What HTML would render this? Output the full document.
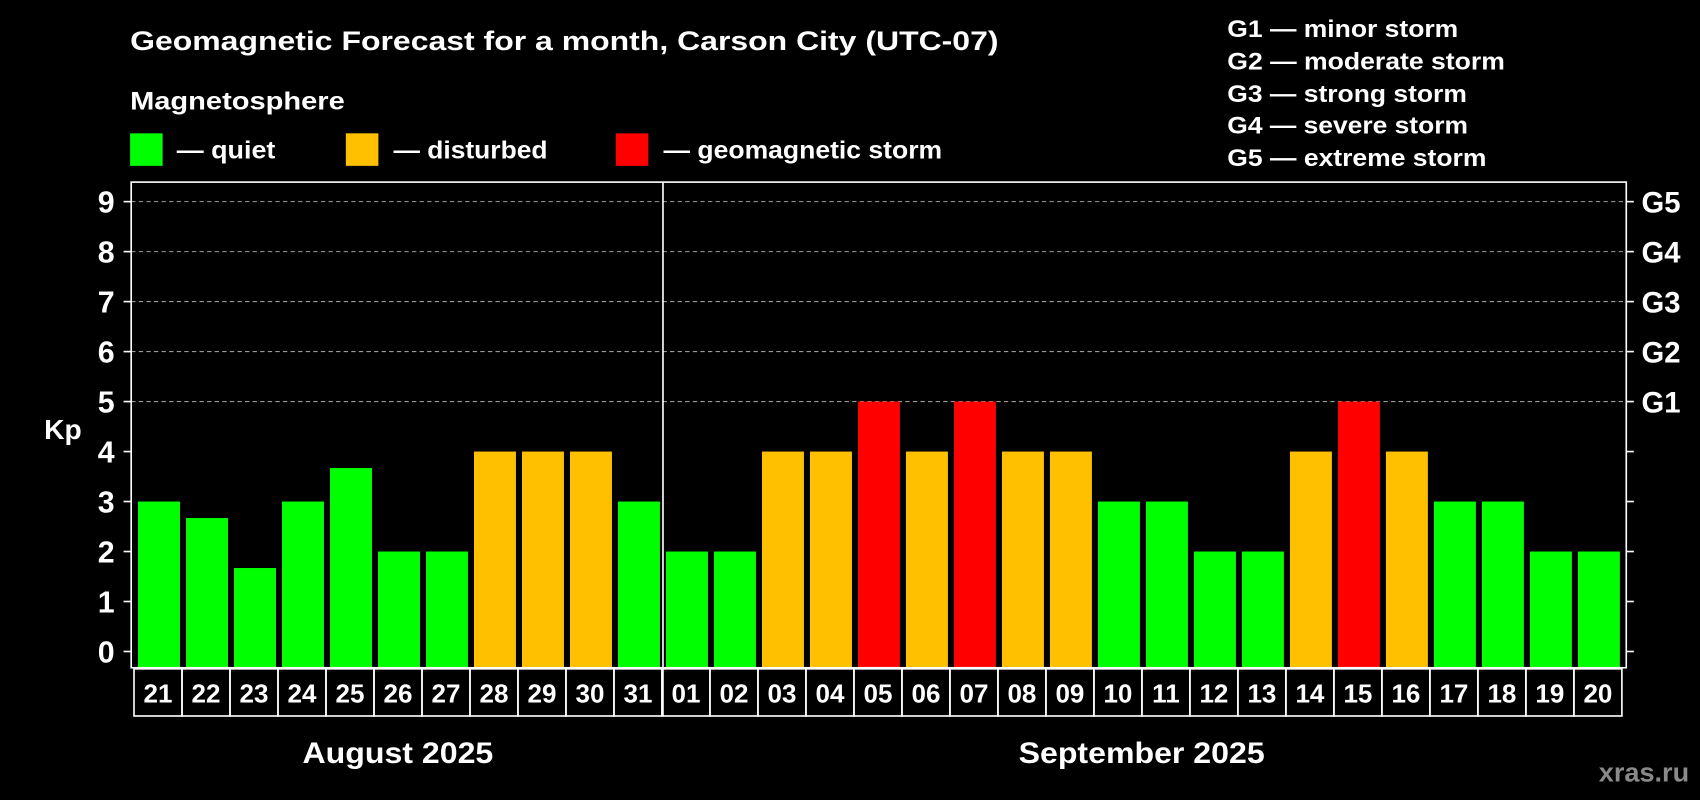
<!DOCTYPE html>
<html><head><meta charset="utf-8"><style>
html,body{margin:0;padding:0;background:#000;width:1700px;height:800px;overflow:hidden}
svg{display:block}
text{font-family:"Liberation Sans",Arial,sans-serif;font-weight:bold;fill:#fff}
</style></head><body>
<svg id="chart" width="1700" height="800" viewBox="0 0 1568 738" preserveAspectRatio="none" xmlns="http://www.w3.org/2000/svg">
<rect x="0" y="0" width="1568" height="738" fill="#000"/>
<text x="120" y="46" font-size="25" textLength="801" lengthAdjust="spacingAndGlyphs">Geomagnetic Forecast for a month, Carson City (UTC-07)</text>
<text x="120" y="101" font-size="23" textLength="198" lengthAdjust="spacingAndGlyphs">Magnetosphere</text>
<g><rect x="120" y="123" width="30" height="30" fill="#00ff00"/><text x="163" y="146" font-size="23" textLength="91" lengthAdjust="spacingAndGlyphs">— quiet</text></g>
<g><rect x="319" y="123" width="30" height="30" fill="#ffc000"/><text x="363" y="146" font-size="23" textLength="142" lengthAdjust="spacingAndGlyphs">— disturbed</text></g>
<g><rect x="568" y="123" width="30" height="30" fill="#ff0000"/><text x="612" y="146" font-size="23" textLength="257" lengthAdjust="spacingAndGlyphs">— geomagnetic storm</text></g>
<g font-size="22">
<text x="1132" y="34" textLength="213" lengthAdjust="spacingAndGlyphs">G1 — minor storm</text>
<text x="1132" y="64" textLength="256" lengthAdjust="spacingAndGlyphs">G2 — moderate storm</text>
<text x="1132" y="94" textLength="221" lengthAdjust="spacingAndGlyphs">G3 — strong storm</text>
<text x="1132" y="123" textLength="222" lengthAdjust="spacingAndGlyphs">G4 — severe storm</text>
<text x="1132" y="153" textLength="239" lengthAdjust="spacingAndGlyphs">G5 — extreme storm</text>
</g>
<text x="58" y="405" font-size="26" text-anchor="middle">Kp</text>
<g id="plot"></g>
<text x="367" y="704" font-size="27" text-anchor="middle" textLength="176" lengthAdjust="spacingAndGlyphs">August 2025</text>
<text x="1053" y="704" font-size="27" text-anchor="middle" textLength="227" lengthAdjust="spacingAndGlyphs">September 2025</text>
<text x="1558" y="721" font-size="25" text-anchor="end" style="fill:#8a8a8a">xras.ru</text>
</svg>
<script>
const days = ["21","22","23","24","25","26","27","28","29","30","31","01","02","03","04","05","06","07","08","09","10","11","12","13","14","15","16","17","18","19","20"];
const kpValues = [3,2.67,1.67,3,3.67,2,2,4,4,4,3,2,2,4,4,5,4,5,4,4,3,3,2,2,4,5,4,3,3,2,2];
const yTicks = [0,1,2,3,4,5,6,7,8,9];
const gLabels = ["G1","G2","G3","G4","G5"];
const gLevels = [5,6,7,8,9];
const gridLevels = [5,6,7,8,9];

const NS="http://www.w3.org/2000/svg";
const plot=document.getElementById('plot');
const L=121,R=1500,T=168,B=616;
const y=v=>601-v*46.11;
const x0=127.3,pitch=44.27,bw=38.7;
const x=i=>x0+i*pitch;
function mk(tag,attrs){const e=document.createElementNS(NS,tag);for(const k in attrs)e.setAttribute(k,attrs[k]);plot.appendChild(e);return e;}
gridLevels.forEach(v=>{
  const e=mk('line',{x1:L,x2:R,y1:y(v),y2:y(v),stroke:'#9a9a9a','stroke-width':1,'stroke-dasharray':'4,3'});
  
  
});
kpValues.forEach((v,i)=>{
  const c=v>=5?'#ff0000':(v>=4?'#ffc000':'#00ff00');
  const e=mk('rect',{x:x(i),y:y(v),width:bw,height:B-y(v),fill:c});
  
  
});
const f=mk('rect',{x:L,y:T,width:R-L,height:B-T,fill:'none',stroke:'#fff','stroke-width':1.5});


const dv=mk('line',{x1:611.5,x2:611.5,y1:T,y2:660,stroke:'#fff','stroke-width':1.5});


yTicks.forEach(v=>{
  const t=mk('line',{x1:114,x2:L,y1:y(v),y2:y(v),stroke:'#fff','stroke-width':1.5});
  
  
  const t2=mk('line',{x1:R,x2:1507,y1:y(v),y2:y(v),stroke:'#fff','stroke-width':1.5});
  
  
  const l=mk('text',{x:98,y:y(v)+10,'font-size':28,'text-anchor':'middle'});
  l.textContent=v;
  
  
});
gLabels.forEach((g,i)=>{
  const l=mk('text',{x:1514,y:y(gLevels[i])+10,'font-size':27});
  l.textContent=g;
  
  
});
days.forEach((d,i)=>{
  const bx=x(i)-3.7;
  const r=mk('rect',{x:bx,y:617,width:pitch,height:43.5,fill:'none',stroke:'#fff','stroke-width':1.5});
  
  
  const t=mk('text',{x:bx+pitch/2,y:648,'font-size':24,'text-anchor':'middle'});
  t.textContent=d;
  
  
});
</script>
</body></html>
